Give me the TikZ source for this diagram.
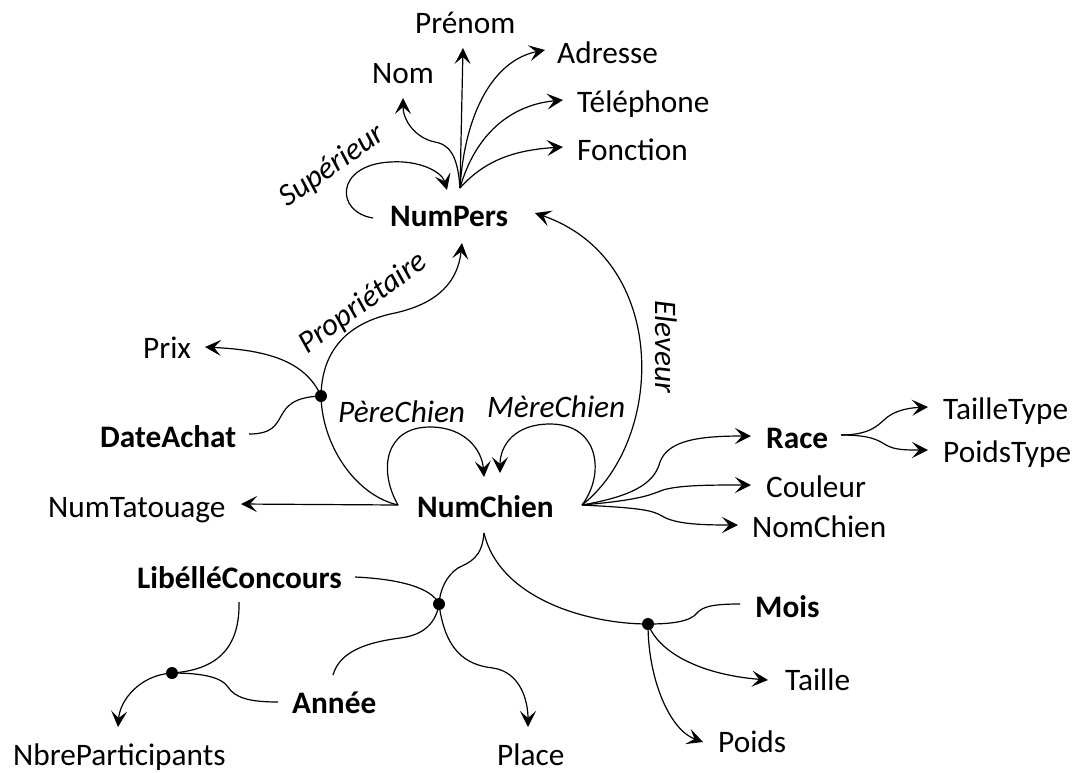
\documentclass[tikz,border=0pt]{standalone}
\usepackage{fontspec}
\setmainfont{Carlito}
\usetikzlibrary{arrows.meta}
\begin{document}
\begin{tikzpicture}[x=1pt,y=-1pt,
  conn/.style={line width=1.2pt},
  arr/.style={conn,-{Stealth[length=16pt,width=16pt,inset=7pt]}},
  hubdot/.style={circle,fill,inner sep=0pt,minimum size=12pt},
  lab/.style={inner sep=0pt,anchor=base west,font=\fontsize{31.3pt}{36pt}\selectfont},
  key/.style={lab,font=\fontsize{31.3pt}{36pt}\selectfont\bfseries},
  rel/.style={inner sep=0pt,font=\fontsize{31.3pt}{36pt}\selectfont\itshape}]
\useasboundingbox (0,0) rectangle (1076,772);
% nodes
\node[lab] (Prenom) at (415,33) {Prénom};
\node[lab] (Nom) at (372,83) {Nom};
\node[lab] (Adresse) at (557,63) {Adresse};
\node[lab] (Telephone) at (577,112) {Téléphone};
\node[lab] (Fonction) at (577,160) {Fonction};
\node[key] (NumPers) at (390,226) {NumPers};
\node[lab] (Prix) at (143,358) {Prix};
\node[key] (DateAchat) at (100,447) {DateAchat};
\node[lab] (NumTatouage) at (48,517) {NumTatouage};
\node[key] (NumChien) at (417,517) {NumChien};
\node[key] (Race) at (766,448) {Race};
\node[lab] (TailleType) at (943,419) {TailleType};
\node[lab] (PoidsType) at (943,462) {PoidsType};
\node[lab] (Couleur) at (766,497) {Couleur};
\node[lab] (NomChien) at (752,537) {NomChien};
\node[key] (Libelle) at (137,588) {LibélléConcours};
\node[key] (Mois) at (755,617) {Mois};
\node[lab] (Taille) at (785,690) {Taille};
\node[key] (Annee) at (292,713) {Année};
\node[lab] (Poids) at (718,752) {Poids};
\node[lab] (Nbre) at (13,765) {NbreParticipants};
\node[lab] (Place) at (497,765) {Place};
% relation labels
\node[rel,rotate=35,anchor=base] (lSup) at (337,173) {Supérieur};
\node[rel,rotate=36,anchor=base] (lProp) at (368,310) {Propriétaire};
\node[rel,rotate=-90] (lElev) at (666,347) {Eleveur};
\node[rel,anchor=base west] (lPere) at (338,422) {PèreChien};
\node[rel,anchor=base west] (lMere) at (487,417) {MèreChien};
% hubs and dots
\coordinate (hP) at (460,188);
\coordinate (hCL) at (398,505);
\coordinate (hCR) at (582,505);
\coordinate (hCB) at (484,533);
\coordinate (hRace) at (841,435);
\node[hubdot] (dProp) at (321,396) {};
\node[hubdot] (dLC) at (439,604) {};
\node[hubdot] (dMois) at (648,624) {};
\node[hubdot] (dNP) at (172,673) {};
% free ends
\coordinate (tPrenom) at (463,48);
\coordinate (tNom) at (403,98);
\coordinate (tAdresse) at (545,50);
\coordinate (tTel) at (563,100);
\coordinate (tFonc) at (563,147);
\coordinate (sSup) at (373,218);
\coordinate (tSup) at (447,190);
\coordinate (tProp) at (462,243);
\coordinate (tElev) at (535,213);
\coordinate (tPrix) at (205,347);
\coordinate (sDate) at (249,434);
\coordinate (tTat) at (241,504);
\coordinate (tPere) at (484,477);
\coordinate (tMere) at (500,473);
\coordinate (tRace) at (751,436);
\coordinate (tCoul) at (751,485);
\coordinate (tNomC) at (738,525);
\coordinate (tTT) at (928,407);
\coordinate (tPT) at (928,450);
\coordinate (sLC) at (355,577);
\coordinate (sLC2) at (239,602);
\coordinate (sAn) at (333,675);
\coordinate (sAn2) at (278,702);
\coordinate (tPlace) at (528,727);
\coordinate (tNbre) at (118,727);
\coordinate (sMois) at (740,604);
\coordinate (tTaille) at (768,680);
\coordinate (tPoids) at (703,742);
% NumPers fan
\draw[arr] (hP) -- (tPrenom);
\draw[arr] (hP) .. controls (458,160) and (452,145) .. (435,142) .. controls (415,138) and (403,120) .. (tNom);
\draw[arr] (hP) .. controls (465,110) and (495,60) .. (tAdresse);
\draw[arr] (hP) .. controls (475,135) and (510,105) .. (tTel);
\draw[arr] (hP) .. controls (485,160) and (515,150) .. (tFonc);
\draw[arr] (sSup) .. controls (335,212) and (335,165) .. (390,162) .. controls (420,160) and (442,172) .. (tSup);
% NumChien relations
\draw[arr] (hCR) .. controls (665,440) and (670,260) .. (tElev);
\draw[conn] (hCL) .. controls (355,495) and (322,445) .. (dProp.center);
\draw[arr] (dProp.center) .. controls (322,340) and (360,320) .. (395,313) .. controls (440,303) and (458,280) .. (tProp);
\draw[arr] (dProp.center) .. controls (305,360) and (265,350) .. (tPrix);
\draw[conn] (sDate) .. controls (295,434) and (265,398) .. (dProp.center);
\draw[arr] (hCL) -- (tTat);
\draw[arr] (hCL) .. controls (378,470) and (385,427) .. (430,427) .. controls (465,427) and (482,450) .. (tPere);
\draw[arr] (hCR) .. controls (605,475) and (600,424) .. (550,424) .. controls (515,424) and (500,445) .. (tMere);
\draw[arr] (hCR) .. controls (640,495) and (655,480) .. (660,462) .. controls (668,440) and (700,436) .. (tRace);
\draw[arr] (hCR) .. controls (640,500) and (650,495) .. (663,490) .. controls (680,485) and (710,485) .. (tCoul);
\draw[arr] (hCR) .. controls (640,508) and (652,510) .. (662,516) .. controls (675,524) and (700,525) .. (tNomC);
\draw[arr] (hRace) .. controls (870,435) and (878,425) .. (884,420) .. controls (892,412) and (905,408) .. (tTT);
\draw[arr] (hRace) .. controls (870,435) and (878,440) .. (886,445) .. controls (895,450) and (905,450) .. (tPT);
% concours
\draw[conn] (hCB) .. controls (482,558) and (470,562) .. (458,568) .. controls (446,576) and (440,590) .. (dLC.center);
\draw[conn] (hCB) .. controls (500,600) and (590,624) .. (dMois.center);
\draw[conn] (sLC) .. controls (400,579) and (432,588) .. (dLC.center);
\draw[conn] (sAn) .. controls (340,650) and (370,642) .. (400,638) .. controls (425,635) and (436,622) .. (dLC.center);
\draw[arr] (dLC.center) .. controls (445,650) and (465,665) .. (493,668) .. controls (520,672) and (528,700) .. (tPlace);
\draw[conn] (sLC2) .. controls (240,650) and (215,670) .. (dNP.center);
\draw[arr] (dNP.center) .. controls (140,675) and (120,700) .. (tNbre);
\draw[conn] (sAn2) .. controls (250,702) and (235,698) .. (228,687) .. controls (222,678) and (205,673) .. (dNP.center);
% mois
\draw[conn] (sMois) .. controls (715,604) and (703,606) .. (697,613) .. controls (690,622) and (670,624) .. (dMois.center);
\draw[arr] (dMois.center) .. controls (660,655) and (705,675) .. (tTaille);
\draw[arr] (dMois.center) .. controls (648,680) and (670,730) .. (tPoids);
\end{tikzpicture}
\end{document}
